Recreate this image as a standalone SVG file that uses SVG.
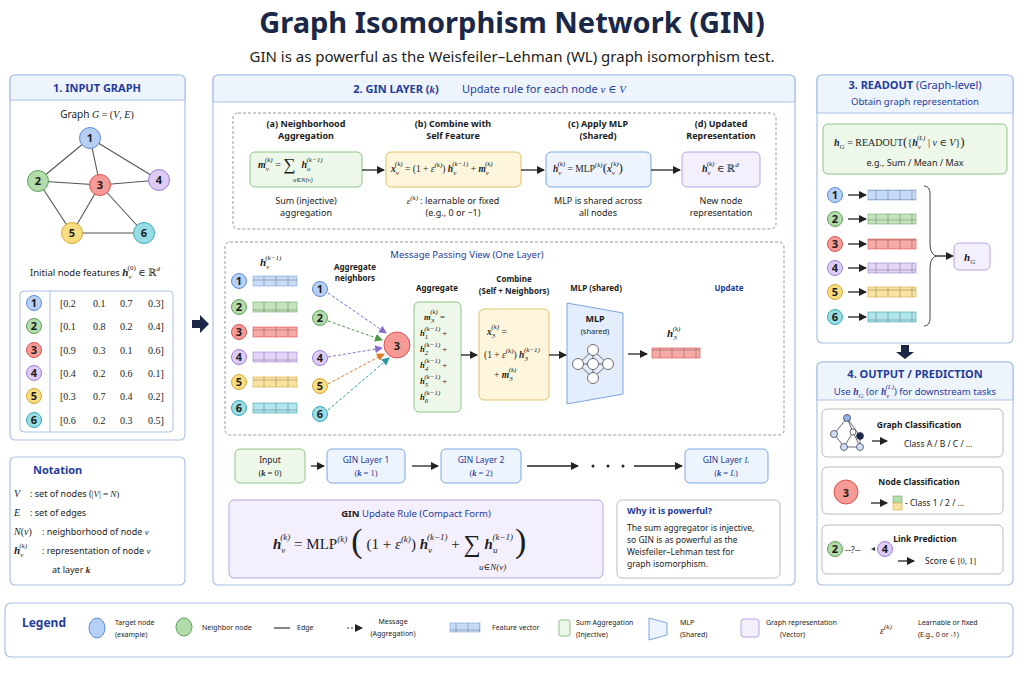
<svg xmlns="http://www.w3.org/2000/svg" width="1024" height="683" viewBox="0 0 1024 683">
<defs>
<marker id="ah" markerWidth="8" markerHeight="8" refX="7" refY="4" orient="auto" markerUnits="userSpaceOnUse"><path d="M0,0 L8,4 L0,8 z" fill="#222"/></marker>
<marker id="ahp" markerWidth="8" markerHeight="8" refX="7" refY="4" orient="auto" markerUnits="userSpaceOnUse"><path d="M0,0 L8,4 L0,8 z" fill="#8a6fd0"/></marker>
<marker id="ahg" markerWidth="8" markerHeight="8" refX="7" refY="4" orient="auto" markerUnits="userSpaceOnUse"><path d="M0,0 L8,4 L0,8 z" fill="#4f9a4a"/></marker>
<marker id="aho" markerWidth="8" markerHeight="8" refX="7" refY="4" orient="auto" markerUnits="userSpaceOnUse"><path d="M0,0 L8,4 L0,8 z" fill="#e07b2a"/></marker>
<marker id="ahc" markerWidth="8" markerHeight="8" refX="7" refY="4" orient="auto" markerUnits="userSpaceOnUse"><path d="M0,0 L8,4 L0,8 z" fill="#2a9aa8"/></marker>
<pattern id="vec" width="12" height="10" patternUnits="userSpaceOnUse"><rect width="12" height="10" fill="none" stroke="#000" stroke-opacity="0.25"/></pattern>
</defs>
<style>
text{font-family:"Noto Sans","DejaVu Sans",sans-serif;fill:#1c1c1c}
.m{font-family:"Liberation Serif","DejaVu Serif",serif;font-style:italic}
.r{font-family:"Liberation Serif","DejaVu Serif",serif;font-style:normal}
.b{font-weight:bold}
.hd{font-weight:bold;fill:#1f3c9c;font-size:11px}
.blue{fill:#1f3c9c}
.panel{fill:#fff;stroke:#a9c2e6;stroke-width:1.2}
.band{fill:#eef4fc;stroke:#a9c2e6;stroke-width:1.2}
.dash{fill:none;stroke:#999;stroke-dasharray:3,2}
.edge{stroke:#555;stroke-width:1.1}
.n1{fill:#b6d0f5;stroke:#5b8bd6}
.n2{fill:#b3dbab;stroke:#5ea35a}
.n3{fill:#f59a95;stroke:#d9534f}
.n4{fill:#dccbf5;stroke:#9d7fd8}
.n5{fill:#f8dc80;stroke:#d9a93a}
.n6{fill:#98dde4;stroke:#3aa9b5}
.nl{font-weight:bold;font-size:11px;text-anchor:middle}
.gbox{fill:#eef8ea;stroke:#8cc585}
.ybox{fill:#fdf5dc;stroke:#e2c36a}
.bbox{fill:#eef4fd;stroke:#7da6e0}
.pbox{fill:#f4effc;stroke:#b9a3e3}
.wbox{fill:#fff;stroke:#bbb}
.ar{stroke:#222;stroke-width:1.3;fill:none;marker-end:url(#ah)}
.s{font-size:7px}
</style>

<text x="512" y="33" text-anchor="middle" font-size="29" font-weight="bold" style="fill:#1a2747">Graph Isomorphism Network (GIN)</text>
<text x="512" y="62" text-anchor="middle" font-size="15">GIN is as powerful as the Weisfeiler–Lehman (WL) graph isomorphism test.</text>

<!-- Panel 1 -->
<g id="panel-input">
<rect class="panel" x="10" y="75" width="175" height="365" rx="5"/>
<path class="band" d="M10,100 V80 a5,5 0 0 1 5,-5 H180 a5,5 0 0 1 5,5 V100 Z"/>
<text x="97" y="92" text-anchor="middle" class="hd">1. INPUT GRAPH</text>
<text x="97" y="118" text-anchor="middle" font-size="10">Graph <tspan class="m">G</tspan><tspan class="r"> = (</tspan><tspan class="m">V</tspan><tspan class="r">, </tspan><tspan class="m">E</tspan><tspan class="r">)</tspan></text>
<g id="graph-edges">
<line class="edge" x1="90" y1="138" x2="38" y2="181"/><line class="edge" x1="90" y1="138" x2="100" y2="185"/><line class="edge" x1="90" y1="138" x2="159" y2="180"/>
<line class="edge" x1="38" y1="181" x2="100" y2="185"/><line class="edge" x1="100" y1="185" x2="159" y2="180"/><line class="edge" x1="38" y1="181" x2="72" y2="233"/>
<line class="edge" x1="100" y1="185" x2="72" y2="233"/><line class="edge" x1="100" y1="185" x2="144" y2="233"/><line class="edge" x1="72" y1="233" x2="144" y2="233"/>
</g>
<g id="g-n1"><circle class="n1" cx="90" cy="138" r="10.5"/><text class="nl" x="90" y="142">1</text></g>
<g id="g-n2"><circle class="n2" cx="38" cy="181" r="10.5"/><text class="nl" x="38" y="185">2</text></g>
<g id="g-n3"><circle class="n3" cx="100" cy="185" r="10.5"/><text class="nl" x="100" y="189">3</text></g>
<g id="g-n4"><circle class="n4" cx="159" cy="180" r="10.5"/><text class="nl" x="159" y="184">4</text></g>
<g id="g-n5"><circle class="n5" cx="72" cy="233" r="10.5"/><text class="nl" x="72" y="237">5</text></g>
<g id="g-n6"><circle class="n6" cx="144" cy="233" r="10.5"/><text class="nl" x="144" y="237">6</text></g>
<text x="30" y="276" font-size="9.5">Initial node features <tspan class="m b" font-size="11">h</tspan><tspan class="m s" dy="3">v</tspan><tspan class="r s" dx="-4" dy="-9">(0)</tspan><tspan class="r" dy="6" font-size="10"> ∈ ℝ</tspan><tspan class="m s" dy="-5">d</tspan></text>
<rect x="20" y="291" width="153" height="141" rx="4" fill="#fff" stroke="#a9c2e6"/>
<line x1="50" y1="291" x2="50" y2="432" stroke="#a9c2e6"/>
<g font-size="10" class="r">
<g><circle class="n1" cx="34" cy="303" r="7.5"/><text class="nl" x="34" y="307" font-size="9">1</text><text class="r" x="60" y="307" font-size="10">[0.2</text><text class="r" x="93" y="307" font-size="10">0.1</text><text class="r" x="120" y="307" font-size="10">0.7</text><text class="r" x="148" y="307" font-size="10">0.3]</text></g>
<g><circle class="n2" cx="34" cy="326" r="7.5"/><text class="nl" x="34" y="330" font-size="9">2</text><text class="r" x="60" y="330" font-size="10">[0.1</text><text class="r" x="93" y="330" font-size="10">0.8</text><text class="r" x="120" y="330" font-size="10">0.2</text><text class="r" x="148" y="330" font-size="10">0.4]</text></g>
<g><circle class="n3" cx="34" cy="350" r="7.5"/><text class="nl" x="34" y="354" font-size="9">3</text><text class="r" x="60" y="354" font-size="10">[0.9</text><text class="r" x="93" y="354" font-size="10">0.3</text><text class="r" x="120" y="354" font-size="10">0.1</text><text class="r" x="148" y="354" font-size="10">0.6]</text></g>
<g><circle class="n4" cx="34" cy="373" r="7.5"/><text class="nl" x="34" y="377" font-size="9">4</text><text class="r" x="60" y="377" font-size="10">[0.4</text><text class="r" x="93" y="377" font-size="10">0.2</text><text class="r" x="120" y="377" font-size="10">0.6</text><text class="r" x="148" y="377" font-size="10">0.1]</text></g>
<g><circle class="n5" cx="34" cy="396" r="7.5"/><text class="nl" x="34" y="400" font-size="9">5</text><text class="r" x="60" y="400" font-size="10">[0.3</text><text class="r" x="93" y="400" font-size="10">0.7</text><text class="r" x="120" y="400" font-size="10">0.4</text><text class="r" x="148" y="400" font-size="10">0.2]</text></g>
<g><circle class="n6" cx="34" cy="420" r="7.5"/><text class="nl" x="34" y="424" font-size="9">6</text><text class="r" x="60" y="424" font-size="10">[0.6</text><text class="r" x="93" y="424" font-size="10">0.2</text><text class="r" x="120" y="424" font-size="10">0.3</text><text class="r" x="148" y="424" font-size="10">0.5]</text></g>
</g>
</g>

<!-- Notation -->
<g id="notation">
<rect class="panel" x="10" y="457" width="175" height="128" rx="5"/>
<text x="33" y="474" class="hd">Notation</text>
<g font-size="9">
<text x="14" y="497"><tspan class="m" font-size="10">V</tspan><tspan x="30">:  set of nodes (</tspan><tspan class="r">|</tspan><tspan class="m">V</tspan><tspan class="r">| = </tspan><tspan class="m">N</tspan><tspan class="r">)</tspan></text>
<text x="14" y="516"><tspan class="m" font-size="10">E</tspan><tspan x="30">:  set of edges</tspan></text>
<text x="14" y="535"><tspan class="m" font-size="10">N</tspan><tspan class="r" font-size="10">(</tspan><tspan class="m" font-size="10">v</tspan><tspan class="r" font-size="10">)</tspan><tspan x="42">: neighborhood of node </tspan><tspan class="m">v</tspan></text>
<text x="14" y="554"><tspan class="m b" font-size="11">h</tspan><tspan class="m s" dy="3">v</tspan><tspan class="m s" dx="-4" dy="-9">(k)</tspan><tspan x="42" dy="6">: representation of node </tspan><tspan class="m">v</tspan></text>
<text x="52" y="573">at layer <tspan class="m b">k</tspan></text>
</g>
</g>

<path d="M192,320 H200 V315 L209,324 L200,333 V328 H192 Z" fill="#1a2747"/>

<!-- Panel 2 -->
<g id="panel-gin">
<rect class="panel" x="213" y="75" width="582" height="510" rx="5"/>
<path class="band" d="M213,102 V80 a5,5 0 0 1 5,-5 H790 a5,5 0 0 1 5,5 V102 Z"/>
<text x="396" y="93" text-anchor="middle" class="hd" font-size="12">2. GIN LAYER (<tspan class="m">k</tspan>)</text>
<text x="462" y="93" font-size="11" class="blue">Update rule for each node <tspan class="m">v</tspan> <tspan class="r">∈</tspan> <tspan class="m">V</tspan></text>
<rect class="dash" x="233" y="113" width="543" height="116" rx="5"/>

<g id="step-a">
<text x="306" y="127" text-anchor="middle" font-size="9" font-weight="bold">(a) Neighborhood</text>
<text x="306" y="139" text-anchor="middle" font-size="9" font-weight="bold">Aggregation</text>
<rect class="gbox" x="250" y="152" width="112" height="35" rx="5"/>
<text x="258" y="168" font-size="10"><tspan class="m b">m</tspan><tspan class="m s" dy="3">v</tspan><tspan class="m s" dx="-4" dy="-9">(k)</tspan><tspan class="r" dy="6"> = </tspan><tspan class="r" font-size="17" dy="2">∑</tspan><tspan class="m b" dx="6" dy="-2">h</tspan><tspan class="m s" dy="3">u</tspan><tspan class="m s" dx="-4" dy="-9">(k−1)</tspan></text>
<text x="293" y="182" class="m" font-size="6.5">u∈N(v)</text>
<text x="306" y="204" text-anchor="middle" font-size="9">Sum (injective)</text>
<text x="306" y="216" text-anchor="middle" font-size="9">aggregation</text>
</g>
<g id="step-b">
<text x="453" y="127" text-anchor="middle" font-size="9" font-weight="bold">(b) Combine with</text>
<text x="453" y="139" text-anchor="middle" font-size="9" font-weight="bold">Self Feature</text>
<rect class="ybox" x="386" y="152" width="135" height="35" rx="5"/>
<text x="391" y="172" font-size="9.5"><tspan class="m b">x</tspan><tspan class="m s" dy="3">v</tspan><tspan class="m s" dx="-4" dy="-9">(k)</tspan><tspan class="r" dy="6"> = (1 + </tspan><tspan class="m">ε</tspan><tspan class="m s" dy="-5">(k)</tspan><tspan class="r" dy="5">) </tspan><tspan class="m b">h</tspan><tspan class="m s" dy="3">v</tspan><tspan class="m s" dx="-4" dy="-9">(k−1)</tspan><tspan class="r" dy="6"> + </tspan><tspan class="m b">m</tspan><tspan class="m s" dy="3">v</tspan><tspan class="m s" dx="-4" dy="-9">(k)</tspan></text>
<text x="453" y="204" text-anchor="middle" font-size="9"><tspan class="m">ε</tspan><tspan class="m s" dy="-4">(k)</tspan><tspan dy="4"> :  learnable or fixed</tspan></text>
<text x="453" y="216" text-anchor="middle" font-size="9">(e.g., 0 or −1)</text>
</g>
<g id="step-c">
<text x="598" y="127" text-anchor="middle" font-size="9" font-weight="bold">(c) Apply MLP</text>
<text x="598" y="139" text-anchor="middle" font-size="9" font-weight="bold">(Shared)</text>
<rect class="bbox" x="546" y="152" width="105" height="35" rx="5"/>
<text x="553" y="172" font-size="9.5"><tspan class="m b">h</tspan><tspan class="m s" dy="3">v</tspan><tspan class="m s" dx="-4" dy="-9">(k)</tspan><tspan class="r" dy="6"> = MLP</tspan><tspan class="m s" dy="-5">(k)</tspan><tspan class="r" dy="5" font-size="13">(</tspan><tspan class="m b">x</tspan><tspan class="m s" dy="3">v</tspan><tspan class="m s" dx="-4" dy="-9">(k)</tspan><tspan class="r" dy="6" font-size="13">)</tspan></text>
<text x="598" y="204" text-anchor="middle" font-size="9">MLP is shared across</text>
<text x="598" y="216" text-anchor="middle" font-size="9">all nodes</text>
</g>
<g id="step-d">
<text x="721" y="127" text-anchor="middle" font-size="9" font-weight="bold">(d) Updated</text>
<text x="721" y="139" text-anchor="middle" font-size="9" font-weight="bold">Representation</text>
<rect class="pbox" x="682" y="152" width="78" height="35" rx="5"/>
<text x="702" y="172" font-size="10"><tspan class="m b">h</tspan><tspan class="m s" dy="3">v</tspan><tspan class="m s" dx="-4" dy="-9">(k)</tspan><tspan class="r" dy="6"> ∈ ℝ</tspan><tspan class="m s" dy="-5">d</tspan></text>
<text x="721" y="204" text-anchor="middle" font-size="9">New node</text>
<text x="721" y="216" text-anchor="middle" font-size="9">representation</text>
</g>

<rect class="dash" x="225" y="242" width="559" height="193" rx="5"/>
<text x="467" y="258" text-anchor="middle" font-size="9.5" class="blue">Message Passing View (One Layer)</text>
<text x="260" y="266" font-size="11"><tspan class="m b">h</tspan><tspan class="m s" dy="3">v</tspan><tspan class="m s" dx="-4" dy="-9">(k−1)</tspan></text>
<g id="mp-features">
<circle class="n1" cx="239" cy="281" r="7.5"/><text class="nl" x="239" y="285" font-size="9">1</text><rect x="253" y="276" width="44" height="10" fill="#c6dbf7" stroke="#7da6e0" stroke-width="0.6"/><rect x="253" y="276" width="44" height="10" fill="url(#vec)"/>
<circle class="n2" cx="239" cy="307" r="7.5"/><text class="nl" x="239" y="311" font-size="9">2</text><rect x="253" y="302" width="44" height="10" fill="#c4e3bd" stroke="#6fb06a" stroke-width="0.6"/><rect x="253" y="302" width="44" height="10" fill="url(#vec)"/>
<circle class="n3" cx="239" cy="332" r="7.5"/><text class="nl" x="239" y="336" font-size="9">3</text><rect x="253" y="327" width="44" height="10" fill="#f7aaa6" stroke="#d9534f" stroke-width="0.6"/><rect x="253" y="327" width="44" height="10" fill="url(#vec)"/>
<circle class="n4" cx="239" cy="357" r="7.5"/><text class="nl" x="239" y="361" font-size="9">4</text><rect x="253" y="352" width="44" height="10" fill="#e2d5f7" stroke="#9d7fd8" stroke-width="0.6"/><rect x="253" y="352" width="44" height="10" fill="url(#vec)"/>
<circle class="n5" cx="239" cy="382" r="7.5"/><text class="nl" x="239" y="386" font-size="9">5</text><rect x="253" y="377" width="44" height="10" fill="#f9e3a0" stroke="#d9a93a" stroke-width="0.6"/><rect x="253" y="377" width="44" height="10" fill="url(#vec)"/>
<circle class="n6" cx="239" cy="408" r="7.5"/><text class="nl" x="239" y="412" font-size="9">6</text><rect x="253" y="403" width="44" height="10" fill="#b0e6eb" stroke="#3aa9b5" stroke-width="0.6"/><rect x="253" y="403" width="44" height="10" fill="url(#vec)"/>
</g>
<text x="355" y="270" text-anchor="middle" font-size="8" font-weight="bold">Aggregate</text>
<text x="355" y="281" text-anchor="middle" font-size="8" font-weight="bold">neighbors</text>
<g id="mp-messages" fill="none" stroke-width="1" stroke-dasharray="3,2">
<line x1="328" y1="293" x2="386" y2="333" stroke="#5b7bd6" marker-end="url(#ahp)"/>
<line x1="328" y1="321" x2="382" y2="340" stroke="#4f9a4a" marker-end="url(#ahg)"/>
<line x1="328" y1="357" x2="382" y2="348" stroke="#8a6fd0" marker-end="url(#ahp)"/>
<line x1="328" y1="384" x2="384" y2="354" stroke="#e07b2a" marker-end="url(#aho)"/>
<line x1="328" y1="410" x2="389" y2="358" stroke="#2a9aa8" marker-end="url(#ahc)"/>
</g>
<g id="mp-neighbors">
<circle class="n1" cx="320" cy="289" r="7.5"/><text class="nl" x="320" y="293" font-size="9">1</text>
<circle class="n2" cx="320" cy="318" r="7.5"/><text class="nl" x="320" y="322" font-size="9">2</text>
<circle class="n4" cx="320" cy="358" r="7.5"/><text class="nl" x="320" y="362" font-size="9">4</text>
<circle class="n5" cx="320" cy="386" r="7.5"/><text class="nl" x="320" y="390" font-size="9">5</text>
<circle class="n6" cx="320" cy="414" r="7.5"/><text class="nl" x="320" y="418" font-size="9">6</text>
</g>
<g id="mp-target"><circle class="n3" cx="397" cy="345" r="13"/><text class="nl" x="397" y="350" font-size="13">3</text></g>

<g id="mp-aggregate">
<text x="437" y="291" text-anchor="middle" font-size="8" font-weight="bold">Aggregate</text>
<rect class="gbox" x="414" y="302" width="47" height="110" rx="5"/>
<g font-size="8.5">
<text x="424" y="320"><tspan class="m b">m</tspan><tspan class="m s" dy="3">3</tspan><tspan class="m s" dx="-4" dy="-9">(k)</tspan><tspan class="r" dy="6"> =</tspan></text>
<text x="420" y="336"><tspan class="m b">h</tspan><tspan class="m s" dy="3">1</tspan><tspan class="m s" dx="-4" dy="-8">(k−1)</tspan><tspan class="r" dy="5"> +</tspan></text>
<text x="420" y="352"><tspan class="m b">h</tspan><tspan class="m s" dy="3">2</tspan><tspan class="m s" dx="-4" dy="-8">(k−1)</tspan><tspan class="r" dy="5"> +</tspan></text>
<text x="420" y="368"><tspan class="m b">h</tspan><tspan class="m s" dy="3">4</tspan><tspan class="m s" dx="-4" dy="-8">(k−1)</tspan><tspan class="r" dy="5"> +</tspan></text>
<text x="420" y="384"><tspan class="m b">h</tspan><tspan class="m s" dy="3">5</tspan><tspan class="m s" dx="-4" dy="-8">(k−1)</tspan><tspan class="r" dy="5"> +</tspan></text>
<text x="420" y="400"><tspan class="m b">h</tspan><tspan class="m s" dy="3">6</tspan><tspan class="m s" dx="-4" dy="-8">(k−1)</tspan></text>
</g>
</g>
<g id="mp-combine">
<text x="514" y="282" text-anchor="middle" font-size="8" font-weight="bold">Combine</text>
<text x="514" y="294" text-anchor="middle" font-size="8" font-weight="bold">(Self + Neighbors)</text>
<rect class="ybox" x="479" y="309" width="70" height="91" rx="5"/>
<g font-size="9.5">
<text x="487" y="335"><tspan class="m b">x</tspan><tspan class="m s" dy="3">3</tspan><tspan class="m s" dx="-4" dy="-9">(k)</tspan><tspan class="r" dy="6"> =</tspan></text>
<text x="484" y="358"><tspan class="r">(1 + </tspan><tspan class="m">ε</tspan><tspan class="m s" dy="-5">(k)</tspan><tspan class="r" dy="5">) </tspan><tspan class="m b">h</tspan><tspan class="m s" dy="3">3</tspan><tspan class="m s" dx="-4" dy="-9">(k−1)</tspan></text>
<text x="494" y="378"><tspan class="r">+ </tspan><tspan class="m b">m</tspan><tspan class="m s" dy="3">3</tspan><tspan class="m s" dx="-4" dy="-9">(k)</tspan></text>
</g>
</g>
<g id="mp-mlp">
<text x="596" y="291" text-anchor="middle" font-size="8" font-weight="bold">MLP (shared)</text>
<path d="M567,303 L623,313 L623,394 L567,404 Z" fill="#e3edfb" stroke="#7da6e0"/>
<text x="595" y="322" text-anchor="middle" font-size="9" font-weight="bold">MLP</text>
<text x="595" y="334" text-anchor="middle" font-size="7.5">(shared)</text>
<g stroke="#333" stroke-width="0.7" fill="#fff">
<line x1="578" y1="364" x2="593" y2="350"/><line x1="578" y1="364" x2="593" y2="364"/><line x1="578" y1="364" x2="593" y2="378"/>
<line x1="593" y1="350" x2="608" y2="364"/><line x1="593" y1="364" x2="608" y2="364"/><line x1="593" y1="378" x2="608" y2="364"/>
<line x1="593" y1="350" x2="593" y2="378"/>
<circle cx="578" cy="364" r="5.5"/><circle cx="593" cy="350" r="5.5"/><circle cx="593" cy="364" r="5.5"/><circle cx="593" cy="378" r="5.5"/><circle cx="608" cy="364" r="5.5"/>
</g>
</g>
<g id="mp-update">
<text x="729" y="291" text-anchor="middle" font-size="8" font-weight="bold" class="blue">Update</text>
<text x="667" y="337" font-size="11"><tspan class="m b">h</tspan><tspan class="m s" dy="3">3</tspan><tspan class="m s" dx="-4" dy="-9">(k)</tspan></text>
<rect x="652" y="348" width="48" height="10" fill="#f7aaa6" stroke="#d9534f" stroke-width="0.6"/><rect x="652" y="348" width="48" height="10" fill="url(#vec)"/>
</g>

<g id="layers">
<rect class="gbox" x="235" y="449" width="70" height="34" rx="5"/>
<text x="270" y="463" text-anchor="middle" font-size="8.5">Input</text>
<text x="270" y="476" text-anchor="middle" font-size="8.5" class="r">(<tspan class="m b">k</tspan> = 0)</text>
<rect class="bbox" x="327" y="449" width="78" height="34" rx="5"/>
<text x="366" y="463" text-anchor="middle" font-size="8.5" class="blue">GIN Layer 1</text>
<text x="366" y="476" text-anchor="middle" font-size="8.5" class="r blue">(<tspan class="m b">k</tspan> = 1)</text>
<rect class="bbox" x="441" y="449" width="80" height="34" rx="5"/>
<text x="481" y="463" text-anchor="middle" font-size="8.5" class="blue">GIN Layer 2</text>
<text x="481" y="476" text-anchor="middle" font-size="8.5" class="r blue">(<tspan class="m b">k</tspan> = 2)</text>
<circle cx="593" cy="466" r="1.5" fill="#222"/><circle cx="608" cy="466" r="1.5" fill="#222"/><circle cx="623" cy="466" r="1.5" fill="#222"/>
<rect class="bbox" x="685" y="449" width="83" height="34" rx="5"/>
<text x="726" y="463" text-anchor="middle" font-size="8.5" class="blue">GIN Layer <tspan class="m">L</tspan></text>
<text x="726" y="476" text-anchor="middle" font-size="8.5" class="r blue">(<tspan class="m b">k</tspan> = <tspan class="m">L</tspan>)</text>
</g>

<g id="compact-rule">
<rect class="pbox" x="229" y="500" width="374" height="78" rx="5"/>
<text x="416" y="517" text-anchor="middle" font-size="9.5"><tspan font-weight="bold">GIN</tspan> <tspan class="blue">Update Rule (Compact Form)</tspan></text>
<text x="273" y="549" font-size="15"><tspan class="m b">h</tspan><tspan class="m" font-size="9" dy="4">v</tspan><tspan class="m" font-size="9" dx="-5" dy="-13">(k)</tspan><tspan class="r" dy="9"> = MLP</tspan><tspan class="m" font-size="9" dy="-7">(k)</tspan><tspan class="r" font-size="34" dy="10" dx="4">(</tspan><tspan class="r" dy="-3" dx="4">(1 + </tspan><tspan class="m">ε</tspan><tspan class="m" font-size="9" dy="-7">(k)</tspan><tspan class="r" dy="7">) </tspan><tspan class="m b">h</tspan><tspan class="m" font-size="9" dy="4">v</tspan><tspan class="m" font-size="9" dx="-5" dy="-13">(k−1)</tspan><tspan class="r" dy="9"> + </tspan><tspan class="r" font-size="24" dy="3">∑</tspan><tspan class="m b" dx="4" dy="-3">h</tspan><tspan class="m" font-size="9" dy="4">u</tspan><tspan class="m" font-size="9" dx="-5" dy="-13">(k−1)</tspan><tspan class="r" font-size="34" dy="12" dx="2">)</tspan></text>
<text x="479" y="570" class="m" font-size="9">u∈N(v)</text>
</g>
<g id="why">
<rect class="wbox" x="617" y="500" width="163" height="78" rx="5" stroke="#ccd"/>
<text x="627" y="514" font-size="9" class="blue" font-weight="bold">Why it is powerful?</text>
<text x="627" y="531" font-size="8.5">The sum aggregator is injective,</text>
<text x="627" y="543" font-size="8.5">so GIN is as powerful as the</text>
<text x="627" y="555" font-size="8.5">Weisfeiler–Lehman test for</text>
<text x="627" y="567" font-size="8.5">graph isomorphism.</text>
</g>
</g>

<!-- Panel 3 -->
<g id="panel-readout">
<rect class="panel" x="817" y="75" width="196" height="268" rx="5"/>
<path class="band" d="M817,113 V80 a5,5 0 0 1 5,-5 H1008 a5,5 0 0 1 5,5 V113 Z"/>
<text x="915" y="89" text-anchor="middle" class="hd" font-size="10.5">3. READOUT <tspan font-weight="normal">(Graph-level)</tspan></text>
<text x="915" y="105" text-anchor="middle" font-size="9.5" class="blue">Obtain graph representation</text>
<rect class="gbox" x="823" y="124" width="184" height="50" rx="5"/>
<text x="834" y="146" font-size="10"><tspan class="m b">h</tspan><tspan class="m s" dy="3">G</tspan><tspan class="r" dy="-3"> = READOUT</tspan><tspan class="r" font-size="13">(</tspan><tspan class="r">{</tspan><tspan class="m b">h</tspan><tspan class="m s" dy="3">v</tspan><tspan class="m s" dx="-4" dy="-9">(L)</tspan><tspan class="r" dy="6"> | </tspan><tspan class="m">v</tspan><tspan class="r"> ∈ </tspan><tspan class="m">V</tspan><tspan class="r">}</tspan><tspan class="r" font-size="13">)</tspan></text>
<text x="915" y="166" text-anchor="middle" font-size="9">e.g., Sum / Mean / Max</text>
<g id="readout-rows">
<circle class="n1" cx="835" cy="195" r="7.5"/><text class="nl" x="835" y="199" font-size="9">1</text><line class="ar" x1="848" y1="195" x2="866" y2="195"/><rect x="868" y="190" width="48" height="10" fill="#c6dbf7" stroke="#7da6e0" stroke-width="0.6"/><rect x="868" y="190" width="48" height="10" fill="url(#vec)"/>
<circle class="n2" cx="835" cy="219" r="7.5"/><text class="nl" x="835" y="223" font-size="9">2</text><line class="ar" x1="848" y1="219" x2="866" y2="219"/><rect x="868" y="214" width="48" height="10" fill="#c4e3bd" stroke="#6fb06a" stroke-width="0.6"/><rect x="868" y="214" width="48" height="10" fill="url(#vec)"/>
<circle class="n3" cx="835" cy="244" r="7.5"/><text class="nl" x="835" y="248" font-size="9">3</text><line class="ar" x1="848" y1="244" x2="866" y2="244"/><rect x="868" y="239" width="48" height="10" fill="#f7aaa6" stroke="#d9534f" stroke-width="0.6"/><rect x="868" y="239" width="48" height="10" fill="url(#vec)"/>
<circle class="n4" cx="835" cy="268" r="7.5"/><text class="nl" x="835" y="272" font-size="9">4</text><line class="ar" x1="848" y1="268" x2="866" y2="268"/><rect x="868" y="263" width="48" height="10" fill="#e2d5f7" stroke="#9d7fd8" stroke-width="0.6"/><rect x="868" y="263" width="48" height="10" fill="url(#vec)"/>
<circle class="n5" cx="835" cy="292" r="7.5"/><text class="nl" x="835" y="296" font-size="9">5</text><line class="ar" x1="848" y1="292" x2="866" y2="292"/><rect x="868" y="287" width="48" height="10" fill="#f9e3a0" stroke="#d9a93a" stroke-width="0.6"/><rect x="868" y="287" width="48" height="10" fill="url(#vec)"/>
<circle class="n6" cx="835" cy="317" r="7.5"/><text class="nl" x="835" y="321" font-size="9">6</text><line class="ar" x1="848" y1="317" x2="866" y2="317"/><rect x="868" y="312" width="48" height="10" fill="#b0e6eb" stroke="#3aa9b5" stroke-width="0.6"/><rect x="868" y="312" width="48" height="10" fill="url(#vec)"/>
</g>
<path d="M924,186 Q930,186 930,194 V244 Q930,256 938,256 Q930,256 930,268 V318 Q930,326 924,326" fill="none" stroke="#444" stroke-width="1"/>
<line class="ar" x1="938" y1="256" x2="953" y2="256"/>
<rect class="pbox" x="954" y="243" width="36" height="27" rx="5"/>
<text x="964" y="261" font-size="11"><tspan class="m b">h</tspan><tspan class="m s" dy="3">G</tspan></text>
</g>
<path d="M901,345 H909 V352 H914 L905,359 L896,352 H901 Z" fill="#1a2747"/>

<!-- Panel 4 -->
<g id="panel-output">
<rect class="panel" x="817" y="362" width="196" height="223" rx="5"/>
<path class="band" d="M817,400 V367 a5,5 0 0 1 5,-5 H1008 a5,5 0 0 1 5,5 V400 Z"/>
<text x="915" y="378" text-anchor="middle" class="hd" font-size="10.5">4. OUTPUT / PREDICTION</text>
<text x="915" y="395" text-anchor="middle" font-size="9.5" class="blue">Use <tspan class="m b">h</tspan><tspan class="m s" dy="3">G</tspan><tspan dy="-3"> (or </tspan><tspan class="m b">h</tspan><tspan class="m s" dy="3">v</tspan><tspan class="m s" dx="-4" dy="-9">(L)</tspan><tspan dy="6">) for downstream tasks</tspan></text>
<g id="out-graph">
<rect class="wbox" x="822" y="409" width="181" height="48" rx="5" stroke="#ccc"/>
<g stroke="#445" stroke-width="0.8">
<line x1="847" y1="418" x2="834" y2="434"/><line x1="847" y1="418" x2="860" y2="436"/><line x1="847" y1="418" x2="853" y2="432"/>
<line x1="834" y1="434" x2="844" y2="447"/><line x1="853" y1="432" x2="844" y2="447"/><line x1="853" y1="432" x2="860" y2="447"/><line x1="860" y1="436" x2="860" y2="447"/><line x1="844" y1="447" x2="860" y2="447"/>
<circle cx="847" cy="418" r="3.5" fill="#8fb3ea"/><circle cx="834" cy="434" r="3.5" fill="#cfe0f8"/><circle cx="853" cy="432" r="3" fill="#fff"/><circle cx="860" cy="436" r="3.5" fill="#1a2747"/><circle cx="844" cy="447" r="3.5" fill="#cfe0f8"/><circle cx="860" cy="447" r="3.5" fill="#cfe0f8"/>
</g>
<line class="ar" x1="872" y1="441" x2="887" y2="441"/>
<text x="919" y="428" text-anchor="middle" font-size="8.5" font-weight="bold">Graph Classification</text>
<text x="904" y="447" font-size="8.5">Class A / B / C / ...</text>
</g>
<g id="out-node">
<rect class="wbox" x="822" y="467" width="181" height="47" rx="5" stroke="#ccc"/>
<circle class="n3" cx="846" cy="492" r="12"/><text class="nl" x="846" y="497" font-size="12">3</text>
<text x="919" y="485" text-anchor="middle" font-size="8.5" font-weight="bold">Node Classification</text>
<line class="ar" x1="871" y1="503" x2="887" y2="503"/>
<rect x="893" y="496" width="9" height="7" fill="#b3dbab" stroke="#6fb06a" stroke-width="0.6"/><rect x="893" y="503" width="9" height="7" fill="#f9e3a0" stroke="#d9a93a" stroke-width="0.6"/>
<text x="905" y="506" font-size="8.5">-  Class 1 / 2 / ...</text>
</g>
<g id="out-link">
<rect class="wbox" x="822" y="525" width="181" height="49" rx="5" stroke="#ccc"/>
<circle class="n2" cx="835" cy="549" r="7.5"/><text class="nl" x="835" y="553" font-size="9">2</text>
<text x="845" y="553" font-size="9">--?--</text>
<path d="M871,549 L875,547 L875,551 Z" fill="#333"/>
<circle class="n4" cx="885" cy="549" r="7.5"/><text class="nl" x="885" y="553" font-size="9">4</text>
<text x="925" y="542" text-anchor="middle" font-size="8.5" font-weight="bold">Link Prediction</text>
<line class="ar" x1="898" y1="561" x2="914" y2="561"/>
<text x="925" y="564" font-size="8.5">Score <tspan class="r">∈ [0, 1]</tspan></text>
</g>
</g>

<!-- Legend -->
<g id="legend">
<rect x="5" y="603" width="1008" height="54" rx="6" fill="#fff" stroke="#a9c2e6" stroke-width="1.2"/>
<text x="22" y="627" font-size="12" font-weight="bold" class="blue">Legend</text>
<ellipse cx="97" cy="628" rx="8" ry="10" class="n1"/>
<text x="115" y="625" font-size="7">Target node</text><text x="115" y="637" font-size="7">(example)</text>
<ellipse cx="184" cy="627" rx="8" ry="9" class="n2"/>
<text x="202" y="630" font-size="7">Neighbor node</text>
<line x1="274" y1="628" x2="290" y2="628" stroke="#333" stroke-width="1.2"/>
<text x="297" y="630" font-size="7">Edge</text>
<line x1="347" y1="628" x2="362" y2="628" stroke="#333" stroke-dasharray="2,2" marker-end="url(#ah)"/>
<text x="393" y="624" text-anchor="middle" font-size="7">Message</text><text x="393" y="636" text-anchor="middle" font-size="7">(Aggregation)</text>
<rect x="450" y="623" width="30" height="9" fill="#c6dbf7" stroke="#7da6e0" stroke-width="0.6"/><rect x="450" y="623" width="30" height="9" fill="url(#vec)"/>
<text x="492" y="630" font-size="7">Feature vector</text>
<rect x="559" y="620" width="11" height="16" rx="2" class="gbox"/>
<text x="576" y="625" font-size="7">Sum Aggregation</text><text x="576" y="637" font-size="7">(Injective)</text>
<path d="M649,618 L667,623 L667,635 L649,640 Z" fill="#eef4fd" stroke="#7da6e0"/>
<text x="680" y="625" font-size="7">MLP</text><text x="680" y="637" font-size="7">(Shared)</text>
<rect x="741" y="619" width="18" height="18" rx="3" class="pbox"/>
<text x="766" y="625" font-size="7">Graph representation</text><text x="780" y="637" font-size="7">(Vector)</text>
<text x="880" y="634" font-size="10"><tspan class="m">ε</tspan><tspan class="m" font-size="7" dy="-5">(k)</tspan></text>
<text x="918" y="625" font-size="7">Learnable or fixed</text><text x="918" y="637" font-size="7">(E.g., 0 or -1)</text>
</g>

<g id="connectors">
<line class="ar" x1="362" y1="170" x2="384" y2="170"/>
<line class="ar" x1="521" y1="170" x2="544" y2="170"/>
<line class="ar" x1="651" y1="170" x2="680" y2="170"/>
<line class="ar" x1="461" y1="355" x2="477" y2="355"/>
<line class="ar" x1="549" y1="355" x2="566" y2="355"/>
<line class="ar" x1="628" y1="354" x2="647" y2="354"/>
<line class="ar" x1="311" y1="466" x2="324" y2="466"/>
<line class="ar" x1="412" y1="466" x2="438" y2="466"/>
<line class="ar" x1="527" y1="466" x2="578" y2="466"/>
<line class="ar" x1="634" y1="466" x2="682" y2="466"/>
</g>
</svg>
